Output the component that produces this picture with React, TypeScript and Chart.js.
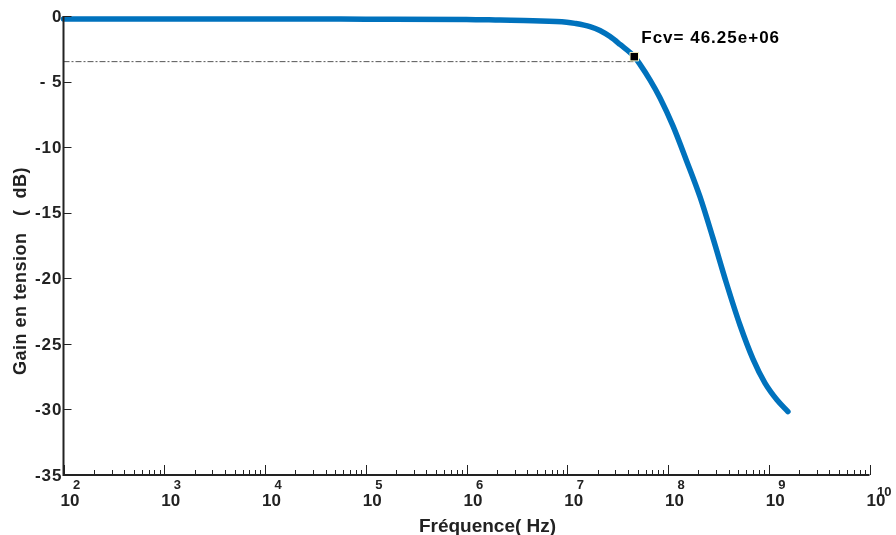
import React, { useEffect, useRef } from "react";
import { Chart, registerables } from "chart.js";

Chart.register(...registerables);

// ---- data ----
const freqs: number[] = [
  1e2, 1e3, 1e4, 1e5, 1e6, 2.15e6, 4.57e6, 9.87e6, 1.19e7, 1.68e7, 2.11e7,
  2.66e7, 3.34e7, 4.625e7, 5.27e7, 6.62e7, 8.34e7, 1.12e8, 1.53e8, 2.08e8,
  2.8e8, 3.77e8, 5.18e8, 6.98e8, 9.18e8, 1.21e9, 1.55e9,
];
const gains: number[] = [
  -0.23, -0.23, -0.23, -0.24, -0.26, -0.31, -0.36, -0.47, -0.56, -0.81, -1.1,
  -1.57, -2.17, -3.1, -3.69, -4.87, -6.25, -8.38, -11.05, -13.8,
  -16.96, -20.28, -23.56, -26.16, -27.99, -29.28, -30.16,
];
const FCV = 46.25e6;
const FCV_GAIN = -3.1;
const CUT_LINE = -3.48;
const yTicks: number[] = [0, -5, -10, -15, -20, -25, -30, -35];
const yTickLabels: string[] = ["0", "- 5", "-10", "-15", "-20", "-25", "-30", "-35"];
const xExponents: number[] = [2, 3, 4, 5, 6, 7, 8, 9, 10];
const xTitle = "Fréquence( Hz)";
const yTitle = "Gain en tension   (  dB)";
const annotation = "Fcv= 46.25e+06";

const INK = "#222222";

const decorPlugin = {
  id: "decor",
  afterDraw(chart: any) {
    const ctx: CanvasRenderingContext2D = chart.ctx;
    const xs = chart.scales.x;
    const ys = chart.scales.y;
    const { left, right, top, bottom } = chart.chartArea;
    ctx.save();
    ctx.strokeStyle = INK;
    ctx.fillStyle = INK;

    // axis lines
    ctx.lineWidth = 2;
    ctx.beginPath();
    ctx.moveTo(left, top);
    ctx.lineTo(left, bottom);
    ctx.lineTo(right, bottom);
    ctx.stroke();

    // y ticks (inward)
    ctx.lineWidth = 1;
    ctx.beginPath();
    yTicks.forEach((v) => {
      const y = Math.round(ys.getPixelForValue(v)) + 0.5;
      ctx.moveTo(left, y);
      ctx.lineTo(left + 8, y);
    });
    ctx.stroke();

    // x ticks: major + minor (inward)
    ctx.beginPath();
    for (let e = 2; e <= 10; e++) {
      const xm = Math.round(xs.getPixelForValue(Math.pow(10, e))) + 0.5;
      ctx.moveTo(xm, bottom);
      ctx.lineTo(xm, bottom - 10);
      if (e < 10) {
        for (let k = 2; k <= 9; k++) {
          const xk = Math.round(xs.getPixelForValue(k * Math.pow(10, e))) + 0.5;
          ctx.moveTo(xk, bottom);
          ctx.lineTo(xk, bottom - 5);
        }
      }
    }
    ctx.stroke();

    // y tick labels
    ctx.font = "bold 17px 'Liberation Sans', Arial, sans-serif";
    (ctx as any).letterSpacing = "1px";
    ctx.textAlign = "right";
    ctx.textBaseline = "middle";
    yTicks.forEach((v, i) => {
      ctx.fillText(yTickLabels[i], left - 1, ys.getPixelForValue(v) + 1);
    });

    // x tick labels 10^n
    (ctx as any).letterSpacing = "0px";
    ctx.textAlign = "left";
    ctx.textBaseline = "alphabetic";
    xExponents.forEach((e) => {
      const x = xs.getPixelForValue(Math.pow(10, e));
      ctx.font = "bold 17px 'Liberation Sans', Arial, sans-serif";
      ctx.fillText("10", x - 3, bottom + 31);
      ctx.font = "bold 13px 'Liberation Sans', Arial, sans-serif";
      const exp = String(e);
      ctx.fillText(exp, x + (exp.length > 1 ? 7.5 : 9.5), bottom + (exp.length > 1 ? 21 : 14));
    });

    // x title
    ctx.font = "bold 19px 'Liberation Sans', Arial, sans-serif";
    ctx.textAlign = "center";
    ctx.fillText(xTitle, 487.5, 532);

    // y title
    ctx.save();
    ctx.translate(21, 375);
    ctx.rotate(-Math.PI / 2);
    ctx.font = "bold 18px 'Liberation Sans', Arial, sans-serif";
    (ctx as any).letterSpacing = "0.5px";
    ctx.textAlign = "left";
    ctx.textBaseline = "middle";
    ctx.fillText(yTitle, 0, 0);
    ctx.restore();

    // annotation
    const mx = xs.getPixelForValue(FCV);
    const my = ys.getPixelForValue(FCV_GAIN);
    ctx.font = "bold 17px 'Liberation Sans', Arial, sans-serif";
    (ctx as any).letterSpacing = "1px";
    ctx.textAlign = "left";
    ctx.textBaseline = "alphabetic";
    ctx.fillStyle = "#000";
    ctx.fillText(annotation, mx + 7, my - 13.4);
    ctx.restore();
  },
};

export default function App() {
  const ref = useRef<HTMLCanvasElement | null>(null);

  useEffect(() => {
    document.body.style.margin = "0";
    if (!ref.current) return;
    const chart = new Chart(ref.current, {
      type: "line",
      data: {
        datasets: [
          {
            label: "Fcv",
            data: [{ x: FCV, y: FCV_GAIN }],
            showLine: false,
            pointStyle: "rect",
            pointRadius: 6,
            pointBackgroundColor: "#000000",
            pointBorderColor: "#fffbc8",
            pointBorderWidth: 1,
          },
          {
            label: "-3 dB",
            data: [
              { x: freqs[0], y: CUT_LINE },
              { x: FCV, y: CUT_LINE },
            ],
            borderColor: "#555555",
            borderWidth: 1,
            borderDash: [6, 2, 2, 2],
            pointRadius: 0,
          },
          {
            label: "Gain",
            data: freqs.map((f, i) => ({ x: f, y: gains[i] })),
            borderColor: "#0072BD",
            borderWidth: 5.5,
            borderCapStyle: "round",
            borderJoinStyle: "round",
            cubicInterpolationMode: "monotone",
            pointRadius: 0,
          },
        ],
      },
      options: {
        animation: false,
        responsive: false,
        maintainAspectRatio: false,
        layout: { padding: { left: 63.5, right: 26.5, top: 16, bottom: 60 } },
        scales: {
          x: { type: "logarithmic", min: 1e2, max: 1e10, display: false },
          y: { type: "linear", min: -35, max: 0, display: false },
        },
        plugins: { legend: { display: false }, tooltip: { enabled: false } },
        clip: false as any,
      } as any,
      plugins: [decorPlugin],
    } as any);
    return () => chart.destroy();
  }, []);

  return (
    <div style={{ position: "absolute", left: 0, top: 0, width: 896, height: 535, background: "#fff" }}>
      <canvas ref={ref} width={896} height={535} style={{ width: 896, height: 535 }} />
    </div>
  );
}
